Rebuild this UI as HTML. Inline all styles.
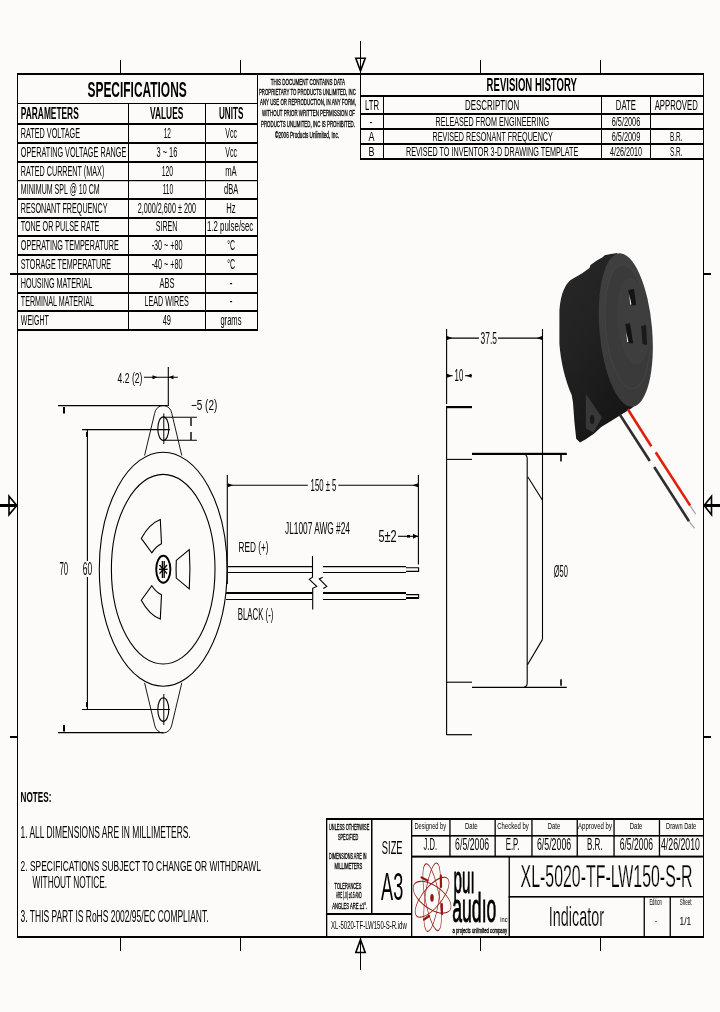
<!DOCTYPE html>
<html><head><meta charset="utf-8"><title>XL-5020-TF-LW150-S-R</title>
<style>html,body{margin:0;padding:0;background:#fcfbf9;}svg{display:block;will-change:transform;}text{font-family:"Liberation Sans",sans-serif;}</style>
</head><body>
<svg width="720" height="1012" viewBox="0 0 720 1012">
<rect x="0" y="0" width="720" height="1012" fill="#fcfbf9"/>
<rect x="17" y="73" width="687" height="2" fill="#000"/>
<rect x="17" y="936" width="687" height="2" fill="#000"/>
<rect x="17" y="73" width="1" height="865" fill="#000"/>
<rect x="703" y="73" width="1" height="865" fill="#000"/>
<rect x="120" y="60" width="1" height="14" fill="#000"/>
<rect x="240" y="60" width="1" height="14" fill="#000"/>
<rect x="480" y="60" width="1" height="14" fill="#000"/>
<rect x="600" y="60" width="1" height="14" fill="#000"/>
<rect x="120" y="937" width="1" height="14" fill="#000"/>
<rect x="240" y="937" width="1" height="14" fill="#000"/>
<rect x="480" y="937" width="1" height="14" fill="#000"/>
<rect x="600" y="937" width="1" height="14" fill="#000"/>
<rect x="10" y="273" width="7" height="2" fill="#000"/>
<rect x="704" y="273" width="7" height="2" fill="#000"/>
<rect x="10" y="736" width="7" height="2" fill="#000"/>
<rect x="704" y="736" width="7" height="2" fill="#000"/>
<rect x="360" y="41" width="1" height="33" fill="#000"/>
<path d="M355.8,58.2 L365.2,58.2 L360.5,71 Z" fill="none" stroke="#000" stroke-width="1.6"/>
<rect x="360" y="937" width="1" height="33" fill="#000"/>
<path d="M355.8,952.5 L365.2,952.5 L360.5,939.5 Z" fill="none" stroke="#000" stroke-width="1.6"/>
<rect x="0" y="504" width="17" height="3" fill="#000"/>
<path d="M9,496.2 L9,514.8 L16.8,505.5 Z" fill="none" stroke="#000" stroke-width="1.6"/>
<rect x="704" y="504" width="16" height="3" fill="#000"/>
<path d="M711.5,496.2 L711.5,514.8 L704.2,505.5 Z" fill="none" stroke="#000" stroke-width="1.6"/>
<rect x="257" y="73" width="1" height="258" fill="#000"/>
<rect x="17" y="103" width="240" height="1" fill="#000"/>
<rect x="17" y="123" width="240" height="2" fill="#000"/>
<rect x="17" y="142" width="240" height="2" fill="#000"/>
<rect x="17" y="161" width="240" height="2" fill="#000"/>
<rect x="17" y="180" width="240" height="1.2" fill="#000"/>
<rect x="17" y="198" width="240" height="2" fill="#000"/>
<rect x="17" y="217" width="240" height="2" fill="#000"/>
<rect x="17" y="235" width="240" height="2" fill="#000"/>
<rect x="17" y="254" width="240" height="2" fill="#000"/>
<rect x="17" y="273" width="240" height="2" fill="#000"/>
<rect x="17" y="292" width="240" height="2" fill="#000"/>
<rect x="17" y="310" width="240" height="2" fill="#000"/>
<rect x="17" y="329" width="240" height="2" fill="#000"/>
<rect x="128" y="103" width="1" height="228" fill="#000"/>
<rect x="205" y="103" width="1" height="228" fill="#000"/>
<text x="87.50" y="96.50" font-size="22.97" textLength="99.20" lengthAdjust="spacingAndGlyphs" font-weight="bold" fill="#000" font-family="Liberation Sans">SPECIFICATIONS</text>
<text x="20.80" y="118.50" font-size="15.99" textLength="57.95" lengthAdjust="spacingAndGlyphs" font-weight="bold" fill="#000" font-family="Liberation Sans">PARAMETERS</text>
<text x="150.00" y="118.50" font-size="15.99" textLength="33.30" lengthAdjust="spacingAndGlyphs" font-weight="bold" fill="#000" font-family="Liberation Sans">VALUES</text>
<text x="219.00" y="118.50" font-size="15.99" textLength="24.30" lengthAdjust="spacingAndGlyphs" font-weight="bold" fill="#000" font-family="Liberation Sans">UNITS</text>
<text x="20.80" y="137.70" font-size="13.81" textLength="59.20" lengthAdjust="spacingAndGlyphs" fill="#000" font-family="Liberation Sans">RATED VOLTAGE</text>
<text x="163.75" y="137.70" font-size="13.81" textLength="7.25" lengthAdjust="spacingAndGlyphs" fill="#000" font-family="Liberation Sans">12</text>
<text x="225.20" y="137.70" font-size="13.81" textLength="11.80" lengthAdjust="spacingAndGlyphs" fill="#000" font-family="Liberation Sans">Vcc</text>
<text x="20.80" y="156.70" font-size="13.81" textLength="105.45" lengthAdjust="spacingAndGlyphs" fill="#000" font-family="Liberation Sans">OPERATING VOLTAGE RANGE</text>
<text x="156.50" y="156.70" font-size="13.81" textLength="20.80" lengthAdjust="spacingAndGlyphs" fill="#000" font-family="Liberation Sans">3 ~ 16</text>
<text x="225.20" y="156.70" font-size="13.81" textLength="11.80" lengthAdjust="spacingAndGlyphs" fill="#000" font-family="Liberation Sans">Vcc</text>
<text x="20.80" y="175.70" font-size="13.81" textLength="83.50" lengthAdjust="spacingAndGlyphs" fill="#000" font-family="Liberation Sans">RATED CURRENT (MAX)</text>
<text x="161.70" y="175.70" font-size="13.81" textLength="11.40" lengthAdjust="spacingAndGlyphs" fill="#000" font-family="Liberation Sans">120</text>
<text x="225.20" y="175.70" font-size="13.81" textLength="11.50" lengthAdjust="spacingAndGlyphs" fill="#000" font-family="Liberation Sans">mA</text>
<text x="20.80" y="193.70" font-size="13.81" textLength="78.90" lengthAdjust="spacingAndGlyphs" fill="#000" font-family="Liberation Sans">MINIMUM SPL @ 10 CM</text>
<text x="162.70" y="193.70" font-size="13.81" textLength="10.40" lengthAdjust="spacingAndGlyphs" fill="#000" font-family="Liberation Sans">110</text>
<text x="224.00" y="193.70" font-size="13.81" textLength="14.30" lengthAdjust="spacingAndGlyphs" fill="#000" font-family="Liberation Sans">dBA</text>
<text x="20.80" y="212.70" font-size="13.81" textLength="86.70" lengthAdjust="spacingAndGlyphs" fill="#000" font-family="Liberation Sans">RESONANT FREQUENCY</text>
<text x="137.70" y="212.70" font-size="13.81" textLength="58.30" lengthAdjust="spacingAndGlyphs" fill="#000" font-family="Liberation Sans">2,000/2,600 ± 200</text>
<text x="226.25" y="212.70" font-size="13.81" textLength="9.35" lengthAdjust="spacingAndGlyphs" fill="#000" font-family="Liberation Sans">Hz</text>
<text x="20.80" y="230.70" font-size="13.81" textLength="78.60" lengthAdjust="spacingAndGlyphs" fill="#000" font-family="Liberation Sans">TONE OR PULSE RATE</text>
<text x="155.80" y="230.70" font-size="13.81" textLength="21.50" lengthAdjust="spacingAndGlyphs" fill="#000" font-family="Liberation Sans">SIREN</text>
<text x="207.00" y="230.70" font-size="13.81" textLength="46.30" lengthAdjust="spacingAndGlyphs" fill="#000" font-family="Liberation Sans">1.2 pulse/sec</text>
<text x="20.80" y="249.70" font-size="13.81" textLength="98.10" lengthAdjust="spacingAndGlyphs" fill="#000" font-family="Liberation Sans">OPERATING TEMPERATURE</text>
<text x="151.70" y="249.70" font-size="13.81" textLength="30.80" lengthAdjust="spacingAndGlyphs" fill="#000" font-family="Liberation Sans">-30 ~ +80</text>
<text x="227.30" y="249.70" font-size="13.81" textLength="7.90" lengthAdjust="spacingAndGlyphs" fill="#000" font-family="Liberation Sans">°C</text>
<text x="20.80" y="268.70" font-size="13.81" textLength="90.30" lengthAdjust="spacingAndGlyphs" fill="#000" font-family="Liberation Sans">STORAGE TEMPERATURE</text>
<text x="151.70" y="268.70" font-size="13.81" textLength="30.80" lengthAdjust="spacingAndGlyphs" fill="#000" font-family="Liberation Sans">-40 ~ +80</text>
<text x="227.30" y="268.70" font-size="13.81" textLength="7.90" lengthAdjust="spacingAndGlyphs" fill="#000" font-family="Liberation Sans">°C</text>
<text x="20.80" y="287.70" font-size="13.81" textLength="71.40" lengthAdjust="spacingAndGlyphs" fill="#000" font-family="Liberation Sans">HOUSING MATERIAL</text>
<text x="159.60" y="287.70" font-size="13.81" textLength="15.00" lengthAdjust="spacingAndGlyphs" fill="#000" font-family="Liberation Sans">ABS</text>
<text x="229.50" y="287.70" font-size="13.81" textLength="3.00" lengthAdjust="spacingAndGlyphs" fill="#000" font-family="Liberation Sans">-</text>
<text x="20.80" y="305.70" font-size="13.81" textLength="73.20" lengthAdjust="spacingAndGlyphs" fill="#000" font-family="Liberation Sans">TERMINAL MATERIAL</text>
<text x="144.60" y="305.70" font-size="13.81" textLength="44.15" lengthAdjust="spacingAndGlyphs" fill="#000" font-family="Liberation Sans">LEAD WIRES</text>
<text x="229.50" y="305.70" font-size="13.81" textLength="3.00" lengthAdjust="spacingAndGlyphs" fill="#000" font-family="Liberation Sans">-</text>
<text x="20.80" y="324.70" font-size="13.81" textLength="28.00" lengthAdjust="spacingAndGlyphs" fill="#000" font-family="Liberation Sans">WEIGHT</text>
<text x="162.70" y="324.70" font-size="13.81" textLength="8.30" lengthAdjust="spacingAndGlyphs" fill="#000" font-family="Liberation Sans">49</text>
<text x="220.40" y="324.70" font-size="13.81" textLength="21.10" lengthAdjust="spacingAndGlyphs" fill="#000" font-family="Liberation Sans">grams</text>
<text x="270.80" y="85.00" font-size="9.74" textLength="74.20" lengthAdjust="spacingAndGlyphs" stroke="#000" stroke-width="0.35" fill="#000" font-family="Liberation Sans">THIS DOCUMENT CONTAINS DATA</text>
<text x="259.00" y="95.00" font-size="9.45" textLength="96.80" lengthAdjust="spacingAndGlyphs" stroke="#000" stroke-width="0.35" fill="#000" font-family="Liberation Sans">PROPRIETARY TO PRODUCTS UNLIMITED, INC</text>
<text x="260.00" y="105.30" font-size="9.45" textLength="96.00" lengthAdjust="spacingAndGlyphs" stroke="#000" stroke-width="0.35" fill="#000" font-family="Liberation Sans">ANY USE OR REPRODUCTION, IN ANY FORM,</text>
<text x="262.00" y="115.80" font-size="9.59" textLength="93.00" lengthAdjust="spacingAndGlyphs" stroke="#000" stroke-width="0.35" fill="#000" font-family="Liberation Sans">WITHOUT PRIOR WRITTEN PERMISSION OF</text>
<text x="261.00" y="126.70" font-size="9.74" textLength="94.00" lengthAdjust="spacingAndGlyphs" stroke="#000" stroke-width="0.35" fill="#000" font-family="Liberation Sans">PRODUCTS UNLIMITED, INC IS PROHIBITED.</text>
<text x="275.00" y="137.50" font-size="9.74" textLength="64.00" lengthAdjust="spacingAndGlyphs" stroke="#000" stroke-width="0.35" fill="#000" font-family="Liberation Sans">©2006 Products Unlimited, Inc.</text>
<rect x="360" y="73" width="1" height="87" fill="#000"/>
<rect x="360" y="95" width="344" height="2" fill="#000"/>
<rect x="360" y="113" width="344" height="2" fill="#000"/>
<rect x="360" y="128" width="344" height="2" fill="#000"/>
<rect x="360" y="143" width="344" height="2" fill="#000"/>
<rect x="360" y="158" width="344" height="2" fill="#000"/>
<rect x="383" y="96" width="1" height="63" fill="#000"/>
<rect x="601" y="96" width="1" height="63" fill="#000"/>
<rect x="650" y="96" width="1" height="63" fill="#000"/>
<text x="486.60" y="91.00" font-size="18.46" textLength="90.30" lengthAdjust="spacingAndGlyphs" font-weight="bold" fill="#000" font-family="Liberation Sans">REVISION HISTORY</text>
<text x="365.00" y="110.00" font-size="14.10" textLength="14.00" lengthAdjust="spacingAndGlyphs" fill="#000" font-family="Liberation Sans">LTR</text>
<text x="465.00" y="110.00" font-size="14.10" textLength="54.10" lengthAdjust="spacingAndGlyphs" fill="#000" font-family="Liberation Sans">DESCRIPTION</text>
<text x="615.80" y="110.00" font-size="14.10" textLength="20.20" lengthAdjust="spacingAndGlyphs" fill="#000" font-family="Liberation Sans">DATE</text>
<text x="654.70" y="110.00" font-size="14.10" textLength="43.10" lengthAdjust="spacingAndGlyphs" fill="#000" font-family="Liberation Sans">APPROVED</text>
<text x="369.50" y="125.80" font-size="12.50" textLength="3.00" lengthAdjust="spacingAndGlyphs" fill="#000" font-family="Liberation Sans">-</text>
<text x="435.50" y="125.80" font-size="12.50" textLength="113.70" lengthAdjust="spacingAndGlyphs" fill="#000" font-family="Liberation Sans">RELEASED FROM ENGINEERING</text>
<text x="611.70" y="125.80" font-size="12.50" textLength="28.60" lengthAdjust="spacingAndGlyphs" fill="#000" font-family="Liberation Sans">6/5/2006</text>
<text x="368.50" y="140.80" font-size="12.50" textLength="6.00" lengthAdjust="spacingAndGlyphs" fill="#000" font-family="Liberation Sans">A</text>
<text x="432.50" y="140.80" font-size="12.50" textLength="120.30" lengthAdjust="spacingAndGlyphs" fill="#000" font-family="Liberation Sans">REVISED RESONANT FREQUENCY</text>
<text x="611.70" y="140.80" font-size="12.50" textLength="28.60" lengthAdjust="spacingAndGlyphs" fill="#000" font-family="Liberation Sans">6/5/2009</text>
<text x="670.00" y="140.80" font-size="12.50" textLength="12.50" lengthAdjust="spacingAndGlyphs" fill="#000" font-family="Liberation Sans">B.R.</text>
<text x="368.50" y="155.80" font-size="12.50" textLength="6.00" lengthAdjust="spacingAndGlyphs" fill="#000" font-family="Liberation Sans">B</text>
<text x="406.00" y="155.80" font-size="12.50" textLength="172.30" lengthAdjust="spacingAndGlyphs" fill="#000" font-family="Liberation Sans">REVISED TO INVENTOR 3-D DRAWING TEMPLATE</text>
<text x="610.00" y="155.80" font-size="12.50" textLength="32.00" lengthAdjust="spacingAndGlyphs" fill="#000" font-family="Liberation Sans">4/26/2010</text>
<text x="670.00" y="155.80" font-size="12.50" textLength="12.50" lengthAdjust="spacingAndGlyphs" fill="#000" font-family="Liberation Sans">S.R.</text>
<ellipse cx="163.2" cy="569.2" rx="63.9" ry="117" fill="none" stroke="#000" stroke-width="1.1"/>
<ellipse cx="163.2" cy="569.2" rx="51.8" ry="94.8" fill="none" stroke="#000" stroke-width="1.1"/>
<path d="M144.6,455.5 L154.6,413.5 A8.7,9.5 0 0 1 171.8,413.5 L181.8,455.5" fill="none" stroke="#000" stroke-width="0.9"/>
<path d="M144.6,682.9 L154.6,724.9 A8.7,9.5 0 0 0 171.8,724.9 L181.8,682.9" fill="none" stroke="#000" stroke-width="0.9"/>
<ellipse cx="163.3" cy="428.7" rx="5.5" ry="11.8" fill="none" stroke="#000" stroke-width="1.1"/>
<ellipse cx="163.3" cy="709.6" rx="5.5" ry="11.8" fill="none" stroke="#000" stroke-width="1.1"/>
<line x1="163.8" y1="413.5" x2="163.8" y2="444" stroke="#000" stroke-width="1"/>
<line x1="163.8" y1="694" x2="163.8" y2="725" stroke="#000" stroke-width="1"/>
<line x1="58" y1="405.6" x2="167.7" y2="405.6" stroke="#000" stroke-width="1.2"/>
<line x1="82" y1="429.6" x2="170.1" y2="429.6" stroke="#000" stroke-width="1.2"/>
<line x1="82" y1="709.5" x2="170.1" y2="709.5" stroke="#000" stroke-width="1.2"/>
<line x1="58" y1="732.6" x2="163.5" y2="732.6" stroke="#000" stroke-width="1.2"/>
<line x1="87.4" y1="429.6" x2="87.4" y2="561" stroke="#000" stroke-width="1.1"/>
<line x1="87.4" y1="577" x2="87.4" y2="709.5" stroke="#000" stroke-width="1.1"/>
<rect x="86" y="432" width="1.5" height="5" fill="#000"/>
<rect x="86" y="702" width="1.5" height="5" fill="#000"/>
<text x="82.80" y="575.00" font-size="17.44" textLength="9.40" lengthAdjust="spacingAndGlyphs" fill="#000" font-family="Liberation Sans">60</text>
<rect x="63" y="407" width="2" height="6.5" fill="#000"/>
<rect x="63" y="725" width="2" height="6.5" fill="#000"/>
<text x="59.50" y="575.00" font-size="17.44" textLength="8.70" lengthAdjust="spacingAndGlyphs" fill="#000" font-family="Liberation Sans">70</text>
<line x1="168.3" y1="366.9" x2="168.3" y2="406" stroke="#000" stroke-width="1.1"/>
<line x1="143.9" y1="377.2" x2="177.8" y2="377.2" stroke="#000" stroke-width="1.1"/>
<path d="M152.5,375.2 L157.5,377.2 L152.5,379.2 Z" fill="#000"/>
<path d="M173.5,375.2 L168.5,377.2 L173.5,379.2 Z" fill="#000"/>
<text x="117.60" y="382.80" font-size="15.41" textLength="24.80" lengthAdjust="spacingAndGlyphs" fill="#000" font-family="Liberation Sans">4.2 (2)</text>
<line x1="163.6" y1="417.2" x2="196.9" y2="417.2" stroke="#000" stroke-width="1.1"/>
<line x1="163.6" y1="440.2" x2="196.9" y2="440.2" stroke="#000" stroke-width="1.1"/>
<line x1="191" y1="418" x2="191" y2="426" stroke="#000" stroke-width="1.4"/>
<line x1="191" y1="432" x2="191" y2="440" stroke="#000" stroke-width="1.4"/>
<text x="191.00" y="409.80" font-size="13.81" textLength="26.30" lengthAdjust="spacingAndGlyphs" fill="#000" font-family="Liberation Sans">−5 (2)</text>
<ellipse cx="163.3" cy="569.3" rx="7.1" ry="13.5" fill="none" stroke="#000" stroke-width="1.9"/>
<g stroke="#000" stroke-width="1.3"><line x1="162.4" y1="561" x2="162.4" y2="578"/><line x1="164.2" y1="561" x2="164.2" y2="578"/><line x1="159" y1="569.3" x2="167.6" y2="569.3"/><line x1="159.5" y1="565" x2="167" y2="573.6"/><line x1="159.5" y1="573.6" x2="167" y2="565"/></g>
<path d="M160.3,519.5 Q149,524 141.3,538.4 L151.8,552.9 Q156,546.5 161.5,543.8 Z" fill="none" stroke="#000" stroke-width="1.1"/>
<path d="M160.3,619.1 Q149,614.6 141.3,600.2 L151.8,585.7 Q156,592.1 161.5,594.8 Z" fill="none" stroke="#000" stroke-width="1.1"/>
<path d="M176.3,560.4 L189.3,549.7 Q190.6,569.3 189.3,588.8 L176.3,578.1 Q175.8,569.3 176.3,560.4 Z" fill="none" stroke="#000" stroke-width="1.1"/>
<line x1="227.3" y1="475" x2="227.3" y2="584" stroke="#000" stroke-width="1.1"/>
<line x1="418.4" y1="475" x2="418.4" y2="564.4" stroke="#000" stroke-width="1.1"/>
<line x1="227.3" y1="485.3" x2="307.8" y2="485.3" stroke="#000" stroke-width="1.1"/>
<line x1="338.3" y1="485.3" x2="418.4" y2="485.3" stroke="#000" stroke-width="1.1"/>
<path d="M227.8,483.3 L233,485.3 L227.8,487.3 Z" fill="#000"/>
<path d="M417.9,483.3 L412.7,485.3 L417.9,487.3 Z" fill="#000"/>
<text x="310.60" y="490.60" font-size="16.28" textLength="25.80" lengthAdjust="spacingAndGlyphs" fill="#000" font-family="Liberation Sans">150 ± 5</text>
<text x="285.00" y="534.40" font-size="16.13" textLength="65.00" lengthAdjust="spacingAndGlyphs" fill="#000" font-family="Liberation Sans">JL1007 AWG #24</text>
<text x="378.40" y="541.80" font-size="17.15" textLength="18.10" lengthAdjust="spacingAndGlyphs" fill="#000" font-family="Liberation Sans">5±2</text>
<line x1="398" y1="536.3" x2="418.4" y2="536.3" stroke="#000" stroke-width="1.1"/>
<rect x="407" y="535" width="3" height="2.6" fill="#000"/>
<path d="M413,533.8 L418,536.3 L413,538.8 Z" fill="#000"/>
<text x="238.60" y="551.70" font-size="14.97" textLength="29.90" lengthAdjust="spacingAndGlyphs" fill="#000" font-family="Liberation Sans">RED (+)</text>
<text x="237.80" y="620.40" font-size="15.84" textLength="35.60" lengthAdjust="spacingAndGlyphs" fill="#000" font-family="Liberation Sans">BLACK (-)</text>
<line x1="227.3" y1="566.6" x2="312.5" y2="566.6" stroke="#000" stroke-width="1.1"/>
<line x1="227.3" y1="572.5" x2="312.5" y2="572.5" stroke="#000" stroke-width="1.1"/>
<line x1="323" y1="566.6" x2="406" y2="566.6" stroke="#000" stroke-width="1.1"/>
<line x1="323" y1="572.5" x2="406" y2="572.5" stroke="#000" stroke-width="1.1"/>
<path d="M406,567.8 L418.6,567.8 L418.6,571.4 L406,571.4" fill="none" stroke="#000" stroke-width="1.1"/>
<line x1="226" y1="593" x2="312.5" y2="593" stroke="#000" stroke-width="2"/>
<line x1="226" y1="599.5" x2="312.5" y2="599.5" stroke="#000" stroke-width="1.1"/>
<line x1="323" y1="593" x2="406" y2="593" stroke="#000" stroke-width="2"/>
<line x1="323" y1="599.5" x2="406" y2="599.5" stroke="#000" stroke-width="1.1"/>
<path d="M406,594.6 L418.6,594.6 L418.6,597.6 L406,597.6" fill="none" stroke="#000" stroke-width="1.1"/>
<rect x="406" y="597" width="13" height="2" fill="#000"/>
<path d="M312.5,556 L312.5,577.3 L309.3,579.3 L316.7,586.4 L312.7,588.3 L312.7,609.6" fill="none" stroke="#000" stroke-width="1.1"/>
<path d="M322.7,577.3 L319.3,579 L326.7,586.4 L323.3,588.5" fill="none" stroke="#000" stroke-width="1.1"/>
<line x1="446.6" y1="329" x2="446.6" y2="404" stroke="#000" stroke-width="1.1"/>
<line x1="446.6" y1="406" x2="446.6" y2="735" stroke="#000" stroke-width="1.1"/>
<line x1="542.5" y1="329" x2="542.5" y2="639.4" stroke="#000" stroke-width="1.1"/>
<line x1="446.6" y1="338.1" x2="478.9" y2="338.1" stroke="#000" stroke-width="1.1"/>
<line x1="498.1" y1="338.1" x2="542.5" y2="338.1" stroke="#000" stroke-width="1.1"/>
<path d="M447,336.1 L452.2,338.1 L447,340.1 Z" fill="#000"/>
<path d="M542,336.1 L536.8,338.1 L542,340.1 Z" fill="#000"/>
<text x="480.60" y="344.00" font-size="16.57" textLength="16.30" lengthAdjust="spacingAndGlyphs" fill="#000" font-family="Liberation Sans">37.5</text>
<line x1="446.6" y1="375.7" x2="452.6" y2="375.7" stroke="#000" stroke-width="1.1"/>
<path d="M447,373.7 L452.2,375.7 L447,377.7 Z" fill="#000"/>
<text x="454.60" y="381.20" font-size="15.99" textLength="8.70" lengthAdjust="spacingAndGlyphs" fill="#000" font-family="Liberation Sans">10</text>
<line x1="465.1" y1="375.7" x2="471.9" y2="375.7" stroke="#000" stroke-width="1.1"/>
<path d="M471.5,373.7 L466.3,375.7 L471.5,377.7 Z" fill="#000"/>
<rect x="446.6" y="406" width="25.4" height="2.2" fill="#000"/>
<line x1="446.6" y1="459.4" x2="472" y2="459.4" stroke="#000" stroke-width="1.1"/>
<line x1="446.6" y1="682.2" x2="472" y2="682.2" stroke="#000" stroke-width="1.1"/>
<line x1="446.6" y1="734.7" x2="472" y2="734.7" stroke="#000" stroke-width="1.2"/>
<rect x="472" y="452.8" width="94.8" height="2.2" fill="#000"/>
<line x1="472" y1="687.3" x2="566.8" y2="687.3" stroke="#000" stroke-width="1.2"/>
<path d="M524,454 Q527.2,455 527.2,459 L527.2,683 Q527.2,686.5 524,687.3" fill="none" stroke="#000" stroke-width="1.1"/>
<path d="M527.9,477 L542.5,500.3" fill="none" stroke="#000" stroke-width="1.1"/>
<path d="M542.5,639.4 L527.5,664.7" fill="none" stroke="#000" stroke-width="1.1"/>
<rect x="560.2" y="455" width="1.6" height="6.4" fill="#000"/>
<rect x="560.2" y="679.3" width="1.6" height="6.4" fill="#000"/>
<text x="553.75" y="576.80" font-size="17.15" textLength="14.15" lengthAdjust="spacingAndGlyphs" fill="#000" font-family="Liberation Sans">Ø50</text>
<text x="20.60" y="802.40" font-size="15.26" textLength="30.80" lengthAdjust="spacingAndGlyphs" font-weight="bold" fill="#000" font-family="Liberation Sans">NOTES:</text>
<text x="20.60" y="837.50" font-size="16.42" textLength="170.10" lengthAdjust="spacingAndGlyphs" fill="#000" font-family="Liberation Sans">1. ALL DIMENSIONS ARE IN MILLIMETERS.</text>
<text x="20.60" y="871.20" font-size="15.55" textLength="240.40" lengthAdjust="spacingAndGlyphs" fill="#000" font-family="Liberation Sans">2. SPECIFICATIONS SUBJECT TO CHANGE OR WITHDRAWL</text>
<text x="32.40" y="888.20" font-size="15.99" textLength="74.70" lengthAdjust="spacingAndGlyphs" fill="#000" font-family="Liberation Sans">WITHOUT NOTICE.</text>
<text x="20.60" y="922.00" font-size="16.28" textLength="187.90" lengthAdjust="spacingAndGlyphs" fill="#000" font-family="Liberation Sans">3. THIS PART IS RoHS 2002/95/EC COMPLIANT.</text>
<rect x="326" y="818" width="378" height="2" fill="#000"/>
<rect x="326" y="818" width="1.3" height="119" fill="#000"/>
<rect x="371" y="818" width="1.5" height="96" fill="#000"/>
<rect x="411" y="818" width="1.3" height="119" fill="#000"/>
<rect x="326" y="913" width="86" height="2" fill="#000"/>
<rect x="411" y="835" width="293" height="1.6" fill="#000"/>
<rect x="411" y="855.6" width="293" height="2" fill="#000"/>
<rect x="449.3" y="818" width="1.3" height="39" fill="#000"/>
<rect x="494.5" y="818" width="1.3" height="39" fill="#000"/>
<rect x="531.3" y="818" width="1.3" height="39" fill="#000"/>
<rect x="576.6" y="818" width="1.3" height="39" fill="#000"/>
<rect x="613.4" y="818" width="1.3" height="39" fill="#000"/>
<rect x="658.8" y="818" width="1.3" height="39" fill="#000"/>
<rect x="508.6" y="856" width="1.3" height="81" fill="#000"/>
<rect x="508.6" y="896" width="195" height="1.6" fill="#000"/>
<rect x="643.6" y="896" width="1.3" height="41" fill="#000"/>
<rect x="669.6" y="896" width="1.3" height="41" fill="#000"/>
<text x="329.00" y="829.80" font-size="9.74" textLength="40.30" lengthAdjust="spacingAndGlyphs" stroke="#000" stroke-width="0.35" fill="#000" font-family="Liberation Sans">UNLESS OTHERWISE</text>
<text x="338.00" y="839.80" font-size="9.45" textLength="20.20" lengthAdjust="spacingAndGlyphs" stroke="#000" stroke-width="0.35" fill="#000" font-family="Liberation Sans">SPECIFIED</text>
<text x="329.00" y="859.20" font-size="9.01" textLength="37.50" lengthAdjust="spacingAndGlyphs" stroke="#000" stroke-width="0.35" fill="#000" font-family="Liberation Sans">DIMENSIONS ARE IN</text>
<text x="334.60" y="868.90" font-size="9.16" textLength="27.80" lengthAdjust="spacingAndGlyphs" stroke="#000" stroke-width="0.35" fill="#000" font-family="Liberation Sans">MILLIMETERS</text>
<text x="334.60" y="889.00" font-size="9.45" textLength="26.80" lengthAdjust="spacingAndGlyphs" stroke="#000" stroke-width="0.35" fill="#000" font-family="Liberation Sans">TOLERANCES</text>
<text x="336.00" y="898.20" font-size="8.72" textLength="25.70" lengthAdjust="spacingAndGlyphs" stroke="#000" stroke-width="0.35" fill="#000" font-family="Liberation Sans">ARE (.X) ±0.5 AND</text>
<text x="332.20" y="908.50" font-size="9.16" textLength="35.00" lengthAdjust="spacingAndGlyphs" stroke="#000" stroke-width="0.35" fill="#000" font-family="Liberation Sans">ANGLES ARE ±1°.</text>
<text x="381.80" y="853.70" font-size="19.19" textLength="20.80" lengthAdjust="spacingAndGlyphs" fill="#000" font-family="Liberation Sans">SIZE</text>
<text x="381.10" y="900.10" font-size="38.30" textLength="22.20" lengthAdjust="spacingAndGlyphs" fill="#000" font-family="Liberation Sans">A3</text>
<text x="331.10" y="929.30" font-size="11.05" textLength="75.70" lengthAdjust="spacingAndGlyphs" fill="#000" font-family="Liberation Sans">XL-5020-TF-LW150-S-R.idw</text>
<text x="414.50" y="829.20" font-size="9.88" textLength="31.60" lengthAdjust="spacingAndGlyphs" fill="#000" font-family="Liberation Sans">Designed by</text>
<text x="465.00" y="829.20" font-size="9.88" textLength="12.70" lengthAdjust="spacingAndGlyphs" fill="#000" font-family="Liberation Sans">Date</text>
<text x="497.30" y="829.20" font-size="9.88" textLength="31.50" lengthAdjust="spacingAndGlyphs" fill="#000" font-family="Liberation Sans">Checked by</text>
<text x="547.80" y="829.20" font-size="9.88" textLength="12.50" lengthAdjust="spacingAndGlyphs" fill="#000" font-family="Liberation Sans">Date</text>
<text x="578.00" y="829.20" font-size="9.88" textLength="33.90" lengthAdjust="spacingAndGlyphs" fill="#000" font-family="Liberation Sans">Approved by</text>
<text x="629.70" y="829.20" font-size="9.88" textLength="12.80" lengthAdjust="spacingAndGlyphs" fill="#000" font-family="Liberation Sans">Date</text>
<text x="666.00" y="829.20" font-size="9.88" textLength="30.30" lengthAdjust="spacingAndGlyphs" fill="#000" font-family="Liberation Sans">Drawn Date</text>
<text x="423.50" y="850.20" font-size="16.86" textLength="13.50" lengthAdjust="spacingAndGlyphs" fill="#000" font-family="Liberation Sans">J.D.</text>
<text x="455.10" y="850.20" font-size="16.86" textLength="34.00" lengthAdjust="spacingAndGlyphs" fill="#000" font-family="Liberation Sans">6/5/2006</text>
<text x="505.70" y="850.20" font-size="16.86" textLength="13.70" lengthAdjust="spacingAndGlyphs" fill="#000" font-family="Liberation Sans">E.P.</text>
<text x="536.90" y="850.20" font-size="16.86" textLength="34.30" lengthAdjust="spacingAndGlyphs" fill="#000" font-family="Liberation Sans">6/5/2006</text>
<text x="586.90" y="850.20" font-size="16.86" textLength="15.60" lengthAdjust="spacingAndGlyphs" fill="#000" font-family="Liberation Sans">B.R.</text>
<text x="619.70" y="850.20" font-size="16.86" textLength="33.30" lengthAdjust="spacingAndGlyphs" fill="#000" font-family="Liberation Sans">6/5/2006</text>
<text x="661.00" y="850.20" font-size="16.86" textLength="39.00" lengthAdjust="spacingAndGlyphs" fill="#000" font-family="Liberation Sans">4/26/2010</text>
<text x="520.60" y="886.60" font-size="31.83" textLength="171.90" lengthAdjust="spacingAndGlyphs" stroke="#fcfbf9" stroke-width="0.25" fill="#000" font-family="Liberation Sans">XL-5020-TF-LW150-S-R</text>
<text x="548.80" y="925.80" font-size="27.04" textLength="55.20" lengthAdjust="spacingAndGlyphs" stroke="#fcfbf9" stroke-width="0.2" fill="#000" font-family="Liberation Sans">Indicator</text>
<text x="649.40" y="905.20" font-size="8.58" textLength="12.50" lengthAdjust="spacingAndGlyphs" fill="#000" font-family="Liberation Sans">Edition</text>
<text x="679.70" y="905.20" font-size="8.58" textLength="11.90" lengthAdjust="spacingAndGlyphs" fill="#000" font-family="Liberation Sans">Sheet</text>
<text x="654.50" y="923.00" font-size="7.99" textLength="3.00" lengthAdjust="spacingAndGlyphs" fill="#000" font-family="Liberation Sans">-</text>
<text x="679.50" y="924.50" font-size="11.63" textLength="11.70" lengthAdjust="spacingAndGlyphs" fill="#000" font-family="Liberation Sans">1/1</text>
<g transform="translate(432.1,897.2) scale(0.55,1)" fill="none" stroke="#921a14" stroke-width="1.1"><ellipse rx="12.5" ry="35.2" transform="rotate(-20)"/><ellipse rx="12.5" ry="35.2" transform="rotate(15)"/><ellipse rx="12.5" ry="34.5" transform="rotate(61)"/><ellipse rx="12.5" ry="35.8" transform="rotate(107)"/></g>
<g stroke="#921a14" stroke-width="2.2" stroke-linecap="round"><line x1="421.5" y1="877.5" x2="427.5" y2="880.5"/><line x1="424" y1="919.5" x2="429" y2="916"/><line x1="440.8" y1="875.5" x2="441" y2="887"/><line x1="441.8" y1="904" x2="442" y2="914"/></g>
<ellipse cx="432" cy="897.8" rx="1.8" ry="3.9" fill="#921a14" stroke="none" stroke-width="0"/>
<text x="453.6" y="893" font-size="39" font-family="Liberation Sans" textLength="21.1" lengthAdjust="spacingAndGlyphs" fill="#000" stroke="#000" stroke-width="0.9">puı</text>
<text x="452.3" y="921.6" font-size="40" font-family="Liberation Sans" textLength="44" lengthAdjust="spacingAndGlyphs" fill="#000" stroke="#000" stroke-width="0.9">audıo</text>
<text x="500.20" y="921.60" font-size="6.69" textLength="7.30" lengthAdjust="spacingAndGlyphs" fill="#000" font-family="Liberation Sans">inc</text>
<text x="452.40" y="932.60" font-size="6.40" textLength="54.80" lengthAdjust="spacingAndGlyphs" stroke="#000" stroke-width="0.3" fill="#000" font-family="Liberation Sans">a projects unlimited company</text>
<defs><linearGradient id="bodyg" x1="0" y1="0" x2="0.6" y2="1"><stop offset="0" stop-color="#282828"/><stop offset="0.45" stop-color="#222"/><stop offset="1" stop-color="#151515"/></linearGradient><linearGradient id="faceg" x1="0" y1="0" x2="0.3" y2="1"><stop offset="0" stop-color="#404040"/><stop offset="1" stop-color="#3a3a3a"/></linearGradient></defs>
<path d="M617.2,252.9 L609.4,254.3 L604.6,255.3 L602.6,257.2 L596.8,260.6 L590.5,265 L589.5,268 L582.2,273.3 L570.6,280.1 C565,285 561,293 559.4,310.2 L559.4,343.7 C560.5,360 565,380 571.7,395 L573,402.7 L574.3,420.7 L576.2,438.7 L580,442.5 L585.8,439.3 L594.2,433.5 L601.2,427.1 L611.5,420.7 L621.8,414.3 L632,407.9 L640,400 L640,330 Z" fill="url(#bodyg)"/>
<path d="M585.8,393.7 L601.9,417.5 L593.5,432.6 L585.8,428.4 Z" fill="#383838"/>
<ellipse cx="592.2" cy="419.6" rx="2.2" ry="4.6" fill="#1a1a1a" stroke="none" stroke-width="0"/>
<g transform="translate(625.8,330) rotate(-5)"><ellipse rx="26.3" ry="77" fill="url(#faceg)"/><ellipse cx="2" cy="-3" rx="22" ry="62" fill="#3a3a3a" stroke="#444" stroke-width="1"/><ellipse cx="8.5" cy="-8" rx="16" ry="44" fill="#3e3e3e"/></g>
<path d="M628.2,290 L634,289 L636.2,305 L631.5,305.6 Z" fill="#141414"/>
<path d="M625.2,324 L630,323.2 L633.2,343.4 L628.5,343 Z" fill="#141414"/>
<path d="M641.2,326 L646,325 L647.2,345 L642.5,344 Z" fill="#1a1a1a"/>
<path d="M629.2,294 L631.4,304.5 L630.2,304.6 Z" fill="#fff"/>
<path d="M626.2,332 L628.4,342 L627.2,342 Z" fill="#fff"/>
<g stroke-linecap="butt"><line x1="627.8" y1="409.2" x2="651.3" y2="446.2" stroke="#e0200c" stroke-width="2.6"/><line x1="655.7" y1="452.2" x2="690.2" y2="505.6" stroke="#e0200c" stroke-width="2.6"/><line x1="690.2" y1="505.6" x2="695.6" y2="514.1" stroke="#a8a8a8" stroke-width="1.3"/><line x1="619.8" y1="414.5" x2="649.8" y2="461" stroke="#2e2e2e" stroke-width="2.6"/><line x1="654.2" y1="467" x2="689" y2="521.2" stroke="#2e2e2e" stroke-width="2.6"/><line x1="689" y1="521.2" x2="694.6" y2="528.3" stroke="#a8a8a8" stroke-width="1.3"/></g>
</svg>
</body></html>
